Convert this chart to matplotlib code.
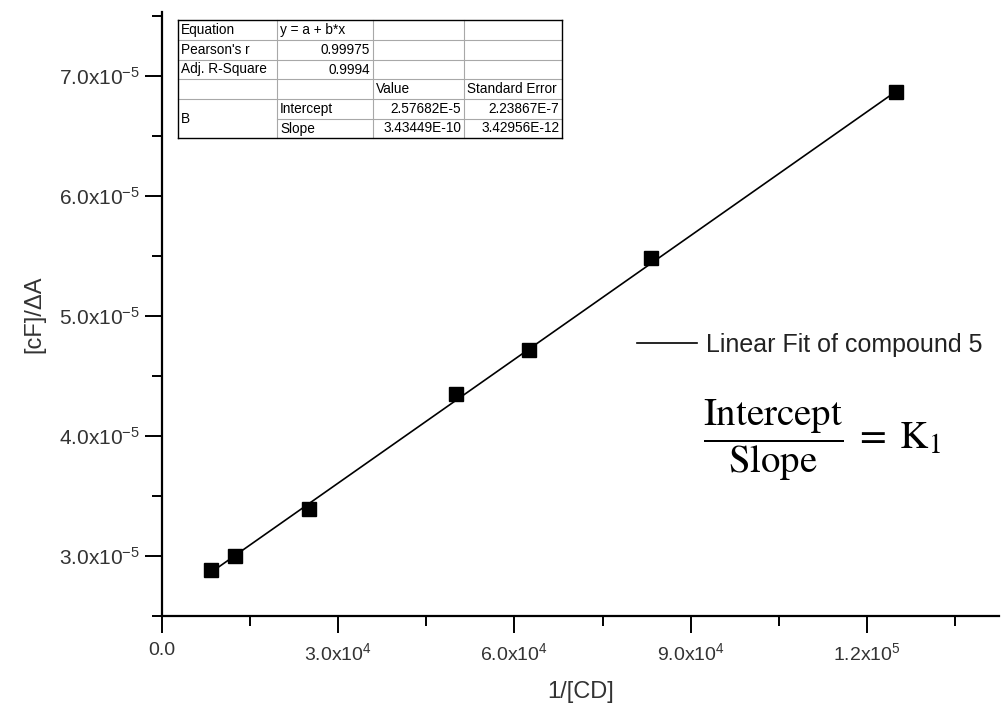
"""Linear fit of [cF]/dA against 1/[CD] (Benesi-Hildebrand style)."""
import numpy as np
import matplotlib
matplotlib.use("Agg")
import matplotlib.pyplot as plt
from matplotlib.lines import Line2D
from matplotlib.ticker import MultipleLocator, FuncFormatter

# data
inv_cd = [8333, 12500, 25000, 50000, 62500, 83333, 125000]
ratio = [2.883e-5, 3.000e-5, 3.392e-5, 4.350e-5, 4.717e-5, 5.483e-5, 6.867e-5]

fit_intercept = 2.57682e-5
fit_slope = 3.43449e-10

table_rows = [
    ["Equation", "y = a + b*x", "", ""],
    ["Pearson's r", "0.99975", "", ""],
    ["Adj. R-Square", "0.9994", "", ""],
    ["", "", "Value", "Standard Error"],
    ["B", "Intercept", "2.57682E-5", "2.23867E-7"],
    ["", "Slope", "3.43449E-10", "3.42956E-12"],
]

W, H = 1001, 714
plt.rcParams["font.family"] = ["Liberation Sans", "DejaVu Sans"]
plt.rcParams["mathtext.fontset"] = "stix"

fig = plt.figure(figsize=(W / 100, H / 100), dpi=100)
ax = fig.add_axes([162 / W, 1 - 616 / H, 837 / W, 604 / H])

xs = np.array(inv_cd, dtype=float)
fx = np.array([xs.min(), xs.max()])
ax.plot(fx, fit_intercept + fit_slope * fx, color="black", lw=1.2,
        label="Linear Fit of compound 5", zorder=2)
ax.plot(inv_cd, ratio, "s", color="black", ms=9.5, zorder=3)

ax.set_xlim(0, 1.425e5)
ax.set_ylim(2.5e-5, 7.53e-5)

for side in ["top", "right"]:
    ax.spines[side].set_visible(False)
for side in ["left", "bottom"]:
    ax.spines[side].set_linewidth(1.6)

ax.xaxis.set_major_locator(MultipleLocator(3e4))
ax.xaxis.set_minor_locator(MultipleLocator(1.5e4))
ax.yaxis.set_major_locator(MultipleLocator(1e-5))
ax.yaxis.set_minor_locator(MultipleLocator(0.5e-5))


def sci_fmt(v, pos):
    if abs(v) < 1e-20:
        return "0.0"
    m, e = f"{v:.1e}".split("e")
    return rf"$\mathregular{{{m}x10^{{{int(e)}}}}}$"


ax.xaxis.set_major_formatter(FuncFormatter(sci_fmt))
ax.yaxis.set_major_formatter(FuncFormatter(sci_fmt))
ax.tick_params(which="major", direction="out", length=12, width=1.4,
               colors="black", labelcolor="#333333")
ax.tick_params(which="minor", direction="out", length=7, width=1.4)
ax.tick_params(axis="x", labelsize=14, pad=7)
ax.tick_params(axis="y", labelsize=15, pad=4)

ax.set_xlabel("1/[CD]", fontsize=17, color="#333333", labelpad=12)
ax.set_ylabel("[cF]/ΔA", fontsize=17, color="#333333", labelpad=10)

leg = ax.legend(loc="center left", bbox_to_anchor=(637 / W, 1 - 345 / H),
                bbox_transform=fig.transFigure, frameon=False, fontsize=18,
                handlelength=2.4, handletextpad=0.35, borderpad=0,
                borderaxespad=0)
for t in leg.get_texts():
    t.set_color("#222222")

fig.text(822 / W, 1 - 440 / H,
         r"$\dfrac{\mathrm{Intercept}}{\mathrm{Slope}}\;=\;\mathrm{K}_1$",
         fontsize=28, ha="center", va="center")

# fit-result table (Origin style), laid out in figure pixels
col_x = [178, 277, 373, 464, 562]
row_y = [20, 40, 60, 79, 99, 119, 138]


def fx_(px):
    return px / W


def fy_(py):
    return 1 - py / H


def hline(x0, x1, y, color, lw=0.8):
    fig.add_artist(Line2D([fx_(x0), fx_(x1)], [fy_(y), fy_(y)],
                          color=color, lw=lw, transform=fig.transFigure,
                          zorder=6))


def vline(x, y0, y1, color, lw=0.8):
    fig.add_artist(Line2D([fx_(x), fx_(x)], [fy_(y0), fy_(y1)],
                          color=color, lw=lw, transform=fig.transFigure,
                          zorder=6))


fig.add_artist(plt.Rectangle((fx_(col_x[0]), fy_(row_y[-1])),
                             (col_x[-1] - col_x[0]) / W,
                             (row_y[-1] - row_y[0]) / H,
                             facecolor="white", edgecolor="none",
                             transform=fig.transFigure, zorder=4))
grid_c = "#a8a8a8"
for i, y in enumerate(row_y[1:-1], start=1):
    if i == 5:
        hline(col_x[1], col_x[-1], y, grid_c)
    else:
        hline(col_x[0], col_x[-1], y, grid_c)
for x in col_x[1:-1]:
    vline(x, row_y[0], row_y[-1], grid_c)
hline(col_x[0], col_x[-1], row_y[0], "black", 1.0)
hline(col_x[0], col_x[-1], row_y[-1], "black", 1.0)
vline(col_x[0], row_y[0], row_y[-1], "black", 1.0)
vline(col_x[-1], row_y[0], row_y[-1], "black", 1.0)

right_cells = {(1, 1), (2, 1), (4, 2), (4, 3), (5, 2), (5, 3)}
for r, row in enumerate(table_rows):
    for c, txt in enumerate(row):
        if not txt:
            continue
        yc = (row_y[r] + row_y[r + 1]) / 2
        if r == 4 and c == 0:
            yc = row_y[5]
        if (r, c) in right_cells:
            fig.text(fx_(col_x[c + 1] - 3), fy_(yc), txt, fontsize=9.8,
                     ha="right", va="center", zorder=7)
        else:
            fig.text(fx_(col_x[c] + 3), fy_(yc), txt, fontsize=9.8,
                     ha="left", va="center", zorder=7)

plt.savefig("out.png", dpi=100)
